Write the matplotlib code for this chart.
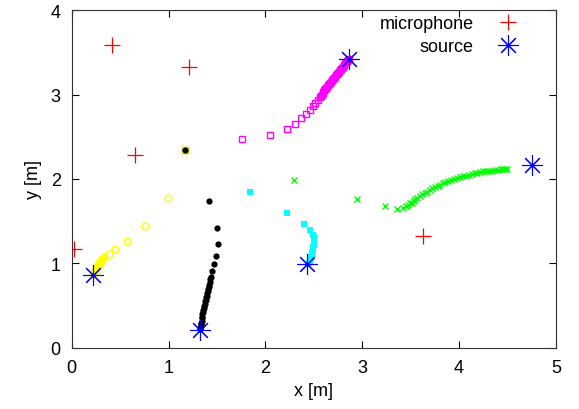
import matplotlib
matplotlib.use('Agg')
import matplotlib.pyplot as plt

plt.rcParams['font.family'] = ['Liberation Sans', 'DejaVu Sans']
plt.rcParams['font.size'] = 13

# microphone and source positions [m]
mic_x = [0.02, 0.42, 1.21, 0.65, 3.63]
mic_y = [1.17, 3.59, 3.33, 2.28, 1.33]
src_x = [2.86, 4.75, 2.43, 1.32, 0.22]
src_y = [3.42, 2.17, 0.99, 0.21, 0.86]

# estimated trajectories, starting at a common initial guess
mag_x = [1.17, 1.76, 2.05, 2.22, 2.31, 2.37, 2.42, 2.46, 2.49, 2.51, 2.54, 2.56,
         2.57, 2.58, 2.59, 2.60, 2.61, 2.62, 2.63, 2.64, 2.65, 2.66, 2.67, 2.68,
         2.69, 2.70, 2.71, 2.72, 2.73, 2.74, 2.75, 2.76, 2.77, 2.78, 2.79, 2.80,
         2.81, 2.82, 2.83, 2.84, 2.85, 2.86]
mag_y = [2.34, 2.47, 2.52, 2.59, 2.65, 2.72, 2.77, 2.82, 2.86, 2.90, 2.94, 2.97,
         2.98, 3.00, 3.02, 3.03, 3.05, 3.06, 3.08, 3.09, 3.11, 3.12, 3.14, 3.15,
         3.17, 3.18, 3.20, 3.21, 3.23, 3.24, 3.26, 3.27, 3.29, 3.30, 3.32, 3.33,
         3.35, 3.37, 3.38, 3.40, 3.41, 3.42]

grn_x = [1.17, 2.30, 2.95, 3.24, 3.36, 3.42, 3.45, 3.47, 3.49, 3.51, 3.53, 3.55,
         3.57, 3.60, 3.62, 3.65, 3.67, 3.70, 3.72, 3.75, 3.78, 3.80, 3.83, 3.86,
         3.89, 3.92, 3.95, 3.98, 4.01, 4.04, 4.07, 4.10, 4.13, 4.16, 4.19, 4.22,
         4.25, 4.28, 4.31, 4.34, 4.37, 4.40, 4.43, 4.45, 4.48, 4.50]
grn_y = [2.34, 1.99, 1.76, 1.68, 1.65, 1.66, 1.68, 1.69, 1.71, 1.72, 1.74, 1.76,
         1.78, 1.80, 1.82, 1.84, 1.85, 1.87, 1.89, 1.90, 1.92, 1.93, 1.95, 1.96,
         1.98, 1.99, 2.00, 2.01, 2.02, 2.03, 2.04, 2.05, 2.06, 2.07, 2.07, 2.08,
         2.09, 2.09, 2.10, 2.10, 2.11, 2.11, 2.12, 2.12, 2.12, 2.12]

cyn_x = [1.17, 1.84, 2.22, 2.40, 2.46, 2.49, 2.50, 2.50, 2.50, 2.50, 2.50, 2.49,
         2.49, 2.49, 2.48, 2.48, 2.48, 2.47, 2.47, 2.46, 2.46, 2.45, 2.45, 2.44]
cyn_y = [2.34, 1.85, 1.60, 1.47, 1.40, 1.34, 1.31, 1.28, 1.26, 1.24, 1.22, 1.20,
         1.18, 1.16, 1.14, 1.12, 1.10, 1.08, 1.06, 1.04, 1.03, 1.01, 1.00, 0.99]

blk_x = [1.17, 1.42, 1.50, 1.51, 1.49, 1.47, 1.45, 1.44, 1.43, 1.43, 1.42, 1.42,
         1.41, 1.41, 1.40, 1.40, 1.39, 1.39, 1.38, 1.38, 1.37, 1.37, 1.36, 1.36,
         1.35, 1.35, 1.34, 1.34, 1.33, 1.33, 1.33, 1.32, 1.32]
blk_y = [2.34, 1.74, 1.42, 1.23, 1.09, 0.99, 0.91, 0.84, 0.81, 0.78, 0.75, 0.72,
         0.70, 0.67, 0.65, 0.62, 0.60, 0.57, 0.55, 0.52, 0.50, 0.47, 0.45, 0.42,
         0.40, 0.37, 0.35, 0.32, 0.30, 0.28, 0.26, 0.24, 0.22]

yel_x = [1.17, 0.99, 0.76, 0.57, 0.45, 0.38, 0.33, 0.32, 0.31, 0.30, 0.30, 0.29,
         0.29, 0.28, 0.28, 0.27, 0.27, 0.26, 0.26, 0.25, 0.25, 0.24, 0.24, 0.23,
         0.23, 0.22]
yel_y = [2.34, 1.78, 1.44, 1.26, 1.17, 1.11, 1.08, 1.06, 1.05, 1.04, 1.03, 1.02,
         1.01, 1.00, 0.99, 0.98, 0.97, 0.96, 0.95, 0.94, 0.93, 0.92, 0.91, 0.90,
         0.89, 0.87]

fig = plt.figure(figsize=(5.79, 4.10), dpi=100)
ax = fig.add_axes([0.124, 0.149, 0.836, 0.824])

ax.plot(mag_x, mag_y, 's', ms=5, mfc='none', mec='#ff00ff', mew=1)
ax.plot(grn_x, grn_y, 'x', ms=4.5, color='#00ff00', mew=1)
ax.plot(cyn_x, cyn_y, 's', ms=5, color='#00ffff', mew=0)
ax.plot(yel_x, yel_y, 'o', ms=5, mfc='none', mec='#ffff00', mew=1)
ax.plot(blk_x, blk_y, 'o', ms=4.5, color='black', mew=0)

ax.plot(mic_x, mic_y, '+', ms=12, color='#ff0000', mew=0.9, linestyle='none', label='microphone')
ax.plot(src_x, src_y, marker=(8, 2, 0), ms=15, color='#0000ff', mew=0.8, linestyle='none', label='source')

ax.set_xlim(0, 5)
ax.set_ylim(0, 4)
ax.set_xticks([0, 1, 2, 3, 4, 5])
ax.set_yticks([0, 1, 2, 3, 4])
ax.tick_params(direction='in', top=True, right=True, length=5, pad=8)
ax.set_xlabel('x [m]', labelpad=4)
ax.set_ylabel('y [m]', labelpad=6)
for s in ax.spines.values():
    s.set_color('#333333')

ax.legend(loc='upper right', bbox_to_anchor=(0.963, 1.007), frameon=False,
          markerfirst=False, handlelength=2.5, borderaxespad=0,
          labelspacing=0.35, handletextpad=0.65)

fig.savefig('out.png', dpi=100)
